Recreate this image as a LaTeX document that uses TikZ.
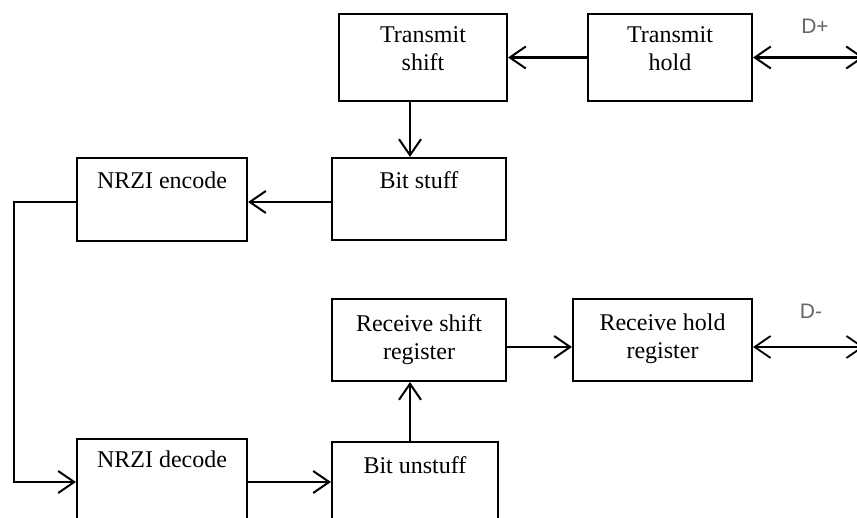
\documentclass[tikz,border=0pt]{standalone}
\usepackage{fontspec}
\setmainfont{Liberation Serif}
\newfontfamily\dsans{Liberation Sans}
\usetikzlibrary{arrows.meta}
\begin{document}
\begin{tikzpicture}[x=1pt,y=-1pt,
  box/.style={draw, line width=2.1pt, rectangle, inner sep=0pt},
  lbl/.style={font=\fontsize{24}{28}\selectfont, align=center, inner sep=0pt, anchor=north},
  dlbl/.style={font=\dsans\fontsize{21}{24}\selectfont, text=black!60, inner sep=0pt},
  arr/.style={line width=2.1pt, -{Straight Barb[length=16pt,width=22pt,line width=2pt]}},
  dbl/.style={line width=2.1pt, {Straight Barb[length=16pt,width=22pt,line width=2pt]}-{Straight Barb[length=16pt,width=22pt,line width=2pt]}},
  thindbl/.style={line width=1.3pt, {Straight Barb[length=16pt,width=22pt,line width=1.8pt]}-{Straight Barb[length=16pt,width=22pt,line width=1.8pt]}}
]
\useasboundingbox (0,0) rectangle (857,518);
\fill[white] (0,0) rectangle (857,518);
\clip (0,0) rectangle (857,518);

% boxes
\node[box, minimum width=168pt, minimum height=87pt] (tshift) at (423,57.5) {};
\node[box, minimum width=164pt, minimum height=87pt] (thold) at (670,57.5) {};
\node[box, minimum width=174pt, minimum height=82pt] (bitstuff) at (419,199) {};
\node[box, minimum width=170pt, minimum height=83pt] (nrzienc) at (162,199.5) {};
\node[box, minimum width=174pt, minimum height=82pt] (rshift) at (419,340) {};
\node[box, minimum width=179pt, minimum height=82pt] (rhold) at (662.5,340) {};
\node[box, minimum width=170pt, minimum height=90pt] (nrzidec) at (162,484) {};
\node[box, minimum width=166pt, minimum height=90pt] (bitunstuff) at (415,487) {};

% labels
\node[lbl] (tshiftT) at ([yshift=-13pt]tshift.north) {Transmit\\shift};
\node[lbl] (tholdT) at ([yshift=-13pt]thold.north) {Transmit\\hold};
\node[lbl] (bitstuffT) at ([yshift=-14pt]bitstuff.north) {Bit stuff};
\node[lbl] (nrziencT) at ([yshift=-15pt]nrzienc.north) {NRZI encode};
\node[lbl] (rshiftT) at ([yshift=-16pt]rshift.north) {Receive shift\\register};
\node[lbl] (rholdT) at ([yshift=-16pt]rhold.north) {Receive hold\\register};
\node[lbl] (nrzidecT) at ([yshift=-13pt]nrzidec.north) {NRZI decode};
\node[lbl] (bitunstuffT) at ([yshift=-15pt]bitunstuff.north) {Bit unstuff};

\node[dlbl] (dplus) at (815,26) {D+};
\node[dlbl] (dminus) at (811,311) {D-};

% helper coordinates
\coordinate (yenc) at (0,202);
\coordinate (ydec) at (0,482);
\coordinate (yrec) at (0,347);
\coordinate (xl) at (14,0);
\coordinate (xv) at (410,0);
\coordinate (dp) at (864,57.5);
\coordinate (dm) at (864,347);

% connectors
\draw[arr] (thold.west) -- (tshift.east);
\draw[dbl] (thold.east) -- (dp);
\draw[arr] (tshift.south -| xv) -- (bitstuff.north -| xv);
\draw[arr] (bitstuff.west |- yenc) -- (nrzienc.east |- yenc);
\draw[arr] (nrzienc.west |- yenc) -| (xl |- ydec) -- (nrzidec.west |- ydec);
\draw[arr] (nrzidec.east |- ydec) -- (bitunstuff.west |- ydec);
\draw[arr] (bitunstuff.north -| xv) -- (rshift.south -| xv);
\draw[arr] (rshift.east |- yrec) -- (rhold.west |- yrec);
\draw[thindbl] (rhold.east |- yrec) -- (dm);
\end{tikzpicture}
\end{document}
